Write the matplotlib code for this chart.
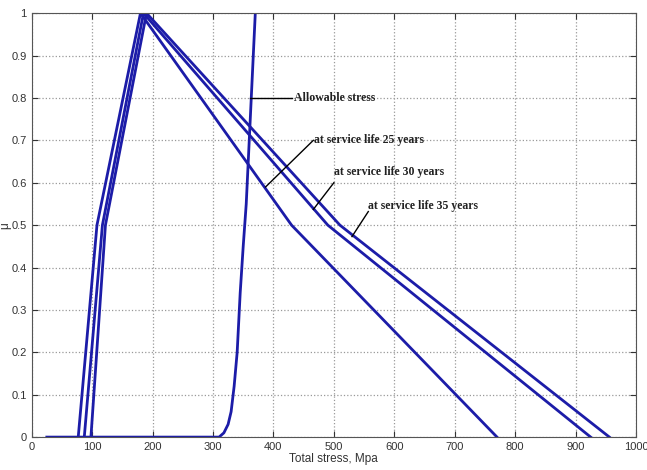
import matplotlib
matplotlib.use("Agg")
import matplotlib.pyplot as plt

# Membership functions (x: total stress, MPa; y: membership mu)
mu_levels = [0, 0.5, 1, 0.5, 0]
x_25 = [77, 108, 180, 430, 770]
x_30 = [87, 117, 185, 490, 925]
x_35 = [98, 122, 190, 510, 956]

x_allow = [25, 310, 318, 325, 330, 335, 340, 345, 350, 355, 360, 365, 370]
y_allow = [0, 0, 0.01, 0.03, 0.06, 0.12, 0.2, 0.34, 0.45, 0.55, 0.7, 0.85, 1.0]

xticks = list(range(0, 1001, 100))
yticks = [0, 0.1, 0.2, 0.3, 0.4, 0.5, 0.6, 0.7, 0.8, 0.9, 1]
ytick_labels = ["0", "0.1", "0.2", "0.3", "0.4", "0.5", "0.6", "0.7", "0.8", "0.9", "1"]

plt.rcParams['font.family'] = ['Liberation Sans Narrow', 'Liberation Sans', 'DejaVu Sans']

fig = plt.figure(figsize=(6.47, 4.70), dpi=100)
ax = fig.add_axes([0.049, 0.070, 0.934, 0.902])

col = '#1c1ca8'
for xs in (x_25, x_30, x_35):
    ax.plot(xs, mu_levels, color=col, lw=2.0)
ax.plot(x_allow, y_allow, color=col, lw=2.0)

ax.set_xlim(0, 1000)
ax.set_ylim(0, 1)
ax.set_xticks(xticks)
ax.set_yticks(yticks)
ax.set_yticklabels(ytick_labels)
ax.tick_params(direction='in', top=True, right=True, labelsize=8, colors='#333333', length=4)
for lab in ax.get_xticklabels() + ax.get_yticklabels():
    lab.set_fontstretch('condensed')
ax.grid(True, linestyle=':', color='#999999', lw=0.9)
for s in ax.spines.values():
    s.set_color('#555555')

ax.set_xlabel("Total stress, Mpa", fontsize=8.5, color='#333333', labelpad=1)
ax.set_ylabel("\u03bc", fontsize=8.5, color='#333333', labelpad=0)

tfont = dict(family='Liberation Serif', fontweight='bold', fontsize=8.5, color='#222222')
ax.plot([362, 430], [0.80, 0.80], color='k', lw=1)
ax.text(434, 0.80, "Allowable stress", va='center', ha='left', **tfont)
ax.plot([387, 466], [0.59, 0.70], color='k', lw=1)
ax.text(467, 0.70, "at service life 25 years", va='center', ha='left', **tfont)
ax.plot([466, 500], [0.537, 0.60], color='k', lw=1)
ax.text(501, 0.625, "at service life 30 years", va='center', ha='left', **tfont)
ax.plot([530, 557], [0.473, 0.532], color='k', lw=1)
ax.text(557, 0.545, "at service life 35 years", va='center', ha='left', **tfont)

fig.savefig("out.png", dpi=100)
